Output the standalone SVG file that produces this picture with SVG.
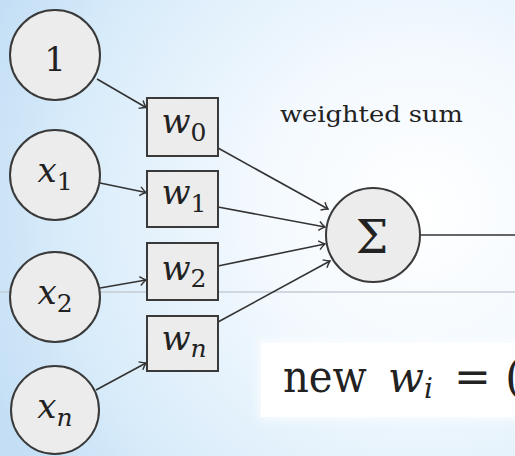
<svg xmlns="http://www.w3.org/2000/svg" width="515" height="456" viewBox="0 0 515 456">
<defs>
<radialGradient id="bg" cx="420" cy="210" r="470" gradientUnits="userSpaceOnUse">
<stop offset="0" stop-color="#ffffff"/>
<stop offset="0.35" stop-color="#f3f9fe"/>
<stop offset="0.75" stop-color="#d9ecfa"/>
<stop offset="1" stop-color="#c3def5"/>
</radialGradient>
<filter id="soft" x="-10%" y="-30%" width="120%" height="160%"><feGaussianBlur stdDeviation="4"/></filter>
<marker id="arr" markerWidth="12" markerHeight="12" refX="0" refY="0" viewBox="-8 -6 10 12" orient="auto" markerUnits="userSpaceOnUse">
<path d="M-6,-4.5 Q-2,-1 0,0 Q-2,1 -6,4.5" fill="none" stroke="#333" stroke-width="1.4"/>
</marker>
</defs>
<style>
.node{fill:#ececec;stroke:#3a3a3a;stroke-width:2}
text{font-family:"DejaVu Serif","Liberation Serif",serif;fill:#222}
.it{font-style:italic}
.edge{stroke:#333;stroke-width:1.6;fill:none}
</style>
<rect width="515" height="456" fill="url(#bg)"/>
<line x1="0" y1="292" x2="515" y2="292" stroke="#c4ccd4" stroke-width="1.5"/>

<g id="connectors">
<line class="edge" x1="97" y1="79" x2="146" y2="107.5" marker-end="url(#arr)"/>
<line class="edge" x1="100" y1="183" x2="146" y2="192.5" marker-end="url(#arr)"/>
<line class="edge" x1="100" y1="288" x2="146" y2="280" marker-end="url(#arr)"/>
<line class="edge" x1="96" y1="390" x2="146" y2="363" marker-end="url(#arr)"/>
<line class="edge" x1="218" y1="148" x2="328" y2="209" marker-end="url(#arr)"/>
<line class="edge" x1="218" y1="207" x2="325" y2="227" marker-end="url(#arr)"/>
<line class="edge" x1="218" y1="266" x2="325" y2="244" marker-end="url(#arr)"/>
<line class="edge" x1="218" y1="322" x2="330" y2="261" marker-end="url(#arr)"/>
<line class="edge" x1="420" y1="235" x2="515" y2="235"/>
</g>

<g id="in1">
<circle class="node" cx="55" cy="55" r="45"/>
<text x="55" y="71" font-size="34" text-anchor="middle">1</text>
</g>
<g id="x1">
<circle class="node" cx="55" cy="175" r="45"/>
<text x="55" y="182" font-size="34" text-anchor="middle"><tspan class="it">x</tspan><tspan font-size="25" dy="8">1</tspan></text>
</g>
<g id="x2">
<circle class="node" cx="55" cy="297" r="45"/>
<text x="55" y="304" font-size="34" text-anchor="middle"><tspan class="it">x</tspan><tspan font-size="25" dy="8">2</tspan></text>
</g>
<g id="xn">
<circle class="node" cx="55" cy="410" r="44"/>
<text x="55" y="418" font-size="34" text-anchor="middle"><tspan class="it">x</tspan><tspan class="it" font-size="25" dy="8">n</tspan></text>
</g>

<g id="w0">
<rect class="node" x="147" y="98" width="71" height="58"/>
<text x="184" y="133" font-size="34" text-anchor="middle"><tspan class="it">w</tspan><tspan font-size="25" dy="8">0</tspan></text>
</g>
<g id="w1">
<rect class="node" x="147" y="171" width="71" height="56"/>
<text x="184" y="204" font-size="34" text-anchor="middle"><tspan class="it">w</tspan><tspan font-size="25" dy="8">1</tspan></text>
</g>
<g id="w2">
<rect class="node" x="147" y="243" width="71" height="57"/>
<text x="184" y="280" font-size="34" text-anchor="middle"><tspan class="it">w</tspan><tspan font-size="25" dy="7">2</tspan></text>
</g>
<g id="wn">
<rect class="node" x="147" y="316" width="71" height="55"/>
<text x="184" y="350" font-size="34" text-anchor="middle"><tspan class="it">w</tspan><tspan class="it" font-size="25" dy="7">n</tspan></text>
</g>

<g id="sum">
<circle class="node" cx="373" cy="235" r="47" fill="#f0f0f0"/>
<text x="372" y="253" font-size="46" text-anchor="middle">Σ</text>
</g>

<g id="weighted-sum-label">
<text x="280" y="122" font-size="23" textLength="183" lengthAdjust="spacingAndGlyphs" fill="#333">weighted sum</text>
</g>

<g id="formula">
<rect x="258" y="340" width="270" height="80" fill="#ffffff" opacity="0.7" filter="url(#soft)"/>
<rect x="261" y="343" width="254" height="74" fill="#ffffff"/>
<text x="283" y="392" font-size="44" fill="#1a1a1a" textLength="84" lengthAdjust="spacingAndGlyphs"><tspan>new</tspan></text>
<text x="388" y="392" fill="#1a1a1a"><tspan class="it" font-size="42">w</tspan><tspan class="it" font-size="28" dy="6">i</tspan></text>
<text x="454" y="392" font-size="44" fill="#1a1a1a">=</text>
<text x="505" y="392" font-size="44" fill="#1a1a1a">(</text>
</g>
</svg>
